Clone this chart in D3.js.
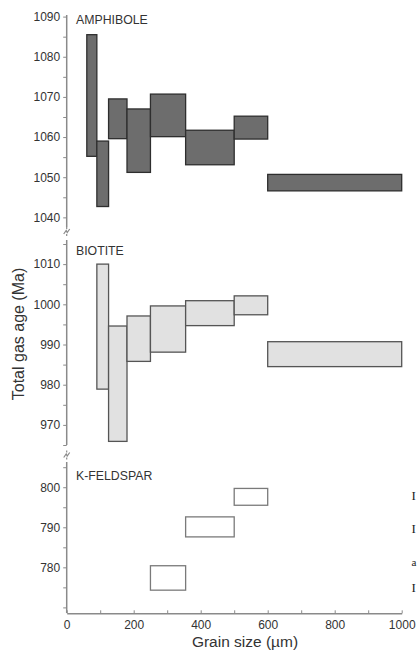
<!DOCTYPE html>
<html>
<head>
<meta charset="utf-8">
<script src="https://cdn.jsdelivr.net/npm/d3@7"></script>
<style>
  html, body { margin: 0; padding: 0; background: #fff; }
  svg { display: block; }
  text { font-family: "Liberation Sans", Arial, Helvetica, sans-serif; }
</style>
</head>
<body>
<svg id="chart" width="417" height="653"></svg>
<script>
// ---------- data ----------
const minerals = ["AMPHIBOLE", "BIOTITE", "K-FELDSPAR"];

const amphSizeLo = [60, 90, 125, 180, 250, 355, 500, 600];
const amphSizeHi = [90, 125, 180, 250, 355, 500, 600, 1000];
const amphAgeLo  = [1055.2, 1042.7, 1059.6, 1051.2, 1060.1, 1053.1, 1059.5, 1046.6];
const amphAgeHi  = [1085.5, 1059.0, 1069.5, 1067.0, 1070.7, 1061.7, 1065.2, 1050.7];

const bioSizeLo = [90, 125, 180, 250, 355, 500, 600];
const bioSizeHi = [125, 180, 250, 355, 500, 600, 1000];
const bioAgeLo  = [978.9, 965.9, 985.8, 988.1, 994.7, 997.4, 984.5];
const bioAgeHi  = [1010.0, 994.6, 997.1, 999.6, 1000.9, 1002.1, 990.7];

const kfsSizeLo = [250, 355, 500];
const kfsSizeHi = [355, 500, 600];
const kfsAgeLo  = [774.3, 787.6, 795.5];
const kfsAgeHi  = [780.4, 792.6, 799.7];

const xTicks = [0, 200, 400, 600, 800, 1000];
const amphTicks = [1040, 1050, 1060, 1070, 1080, 1090];
const bioTicks  = [970, 980, 990, 1000, 1010];
const kfsTicks  = [780, 790, 800];

const yTitle = "Total gas age (Ma)";
const xTitle = "Grain size (\u00b5m)";
const sideFragments = ["I", "I", "a", "I"];

// ---------- layout ----------
const svg = d3.select("#chart");
const axisX = 66.7;
const x = d3.scaleLinear().domain([0, 1000]).range([axisX, 401.7]);

const panels = [
  { name: minerals[0], domain: [1037.6, 1090.4], range: [227, 15], ticks: amphTicks,
    lo: amphSizeLo, hi: amphSizeHi, aLo: amphAgeLo, aHi: amphAgeHi,
    fill: "#6d6d6d", stroke: "#2e2e2e", labelY: 24 },
  { name: minerals[1], domain: [965.0, 1016.0], range: [445, 240], ticks: bioTicks,
    lo: bioSizeLo, hi: bioSizeHi, aLo: bioAgeLo, aHi: bioAgeHi,
    fill: "#e1e1e1", stroke: "#555", labelY: 255 },
  { name: minerals[2], domain: [768.6, 806.3], range: [613, 462], ticks: kfsTicks,
    lo: kfsSizeLo, hi: kfsSizeHi, aLo: kfsAgeLo, aHi: kfsAgeHi,
    fill: "#ffffff", stroke: "#7a7a7a", labelY: 480 }
];

const axisColor = "#8a8a8a";
const textColor = "#333";

panels.forEach(p => {
  const y = d3.scaleLinear().domain(p.domain).range(p.range);
  const g = svg.append("g");

  // bars
  const data = p.lo.map((d, i) => ({ lo: d, hi: p.hi[i], aLo: p.aLo[i], aHi: p.aHi[i] }));
  g.selectAll("rect").data(data).enter().append("rect")
    .attr("x", d => x(d.lo))
    .attr("width", d => x(d.hi) - x(d.lo))
    .attr("y", d => y(d.aHi))
    .attr("height", d => y(d.aLo) - y(d.aHi))
    .attr("fill", p.fill)
    .attr("stroke", p.stroke)
    .attr("stroke-width", 1.3);

  // y axis
  const minor = d3.range(Math.ceil(p.domain[0] / 5) * 5, p.domain[1] + 0.001, 5);
  const ax = d3.axisLeft(y).tickValues(minor).tickSize(3.5).tickPadding(3)
    .tickFormat(d => p.ticks.includes(d) ? d : "");
  const ag = g.append("g").attr("transform", `translate(${axisX},0)`).call(ax);
  ag.select(".domain").attr("stroke", axisColor).attr("stroke-width", 1.5)
    .attr("d", `M0,${p.range[1]}V${p.range[0]}`);
  ag.selectAll(".tick line").attr("stroke", axisColor).attr("stroke-width", 1);
  ag.selectAll(".tick text").attr("fill", textColor).style("font-size", "12px")
    .style("font-family", "'Liberation Sans', Arial, sans-serif");

  // panel label
  g.append("text").attr("x", 76).attr("y", p.labelY)
    .attr("fill", textColor).style("font-size", "12.3px").text(p.name);
});

// axis breaks
[231.5, 455].forEach(cy => {
  svg.append("path")
    .attr("d", `M${axisX - 3},${cy + 2.5} L${axisX - 0.5},${cy - 1} L${axisX + 0.5},${cy + 1} L${axisX + 3},${cy - 2.5}`)
    .attr("fill", "none").attr("stroke", axisColor).attr("stroke-width", 1.2);
  svg.append("line").attr("x1", axisX).attr("x2", axisX)
    .attr("y1", cy - 4.5).attr("y2", cy - 2.5).attr("stroke", axisColor).attr("stroke-width", 1.2);
  svg.append("line").attr("x1", axisX).attr("x2", axisX)
    .attr("y1", cy + 2.5).attr("y2", cy + 4.5).attr("stroke", axisColor).attr("stroke-width", 1.2);
});

// x axis
const xa = d3.axisBottom(x).tickValues(d3.range(0, 1001, 100)).tickSize(0).tickPadding(7)
  .tickFormat(d => xTicks.includes(d) ? d : "");
const xg = svg.append("g").attr("transform", "translate(0,613.3)").call(xa);
xg.select(".domain").attr("stroke", axisColor).attr("stroke-width", 1.5);
xg.selectAll(".tick line").attr("y2", -3).attr("stroke", axisColor).attr("stroke-width", 1);
xg.selectAll(".tick text").attr("fill", textColor).style("font-size", "12px")
  .style("font-family", "'Liberation Sans', Arial, sans-serif");

// titles
svg.append("text").attr("x", 245).attr("y", 647).attr("text-anchor", "middle")
  .attr("fill", textColor).style("font-size", "15.5px").text(xTitle);
svg.append("text").attr("transform", "translate(24,334) rotate(-90)").attr("text-anchor", "middle")
  .attr("fill", textColor).style("font-size", "16px").text(yTitle);

// small text fragments at the right edge (from neighbouring page)
const fragY = [500, 533, 566, 592];
sideFragments.forEach((t, i) => {
  svg.append("text").attr("x", 411.5).attr("y", fragY[i])
    .style("font-family", "'Liberation Serif', 'DejaVu Serif', serif")
    .style("font-size", t === "a" ? "11px" : "13px").attr("fill", "#222").text(t);
});
</script>
</body>
</html>
